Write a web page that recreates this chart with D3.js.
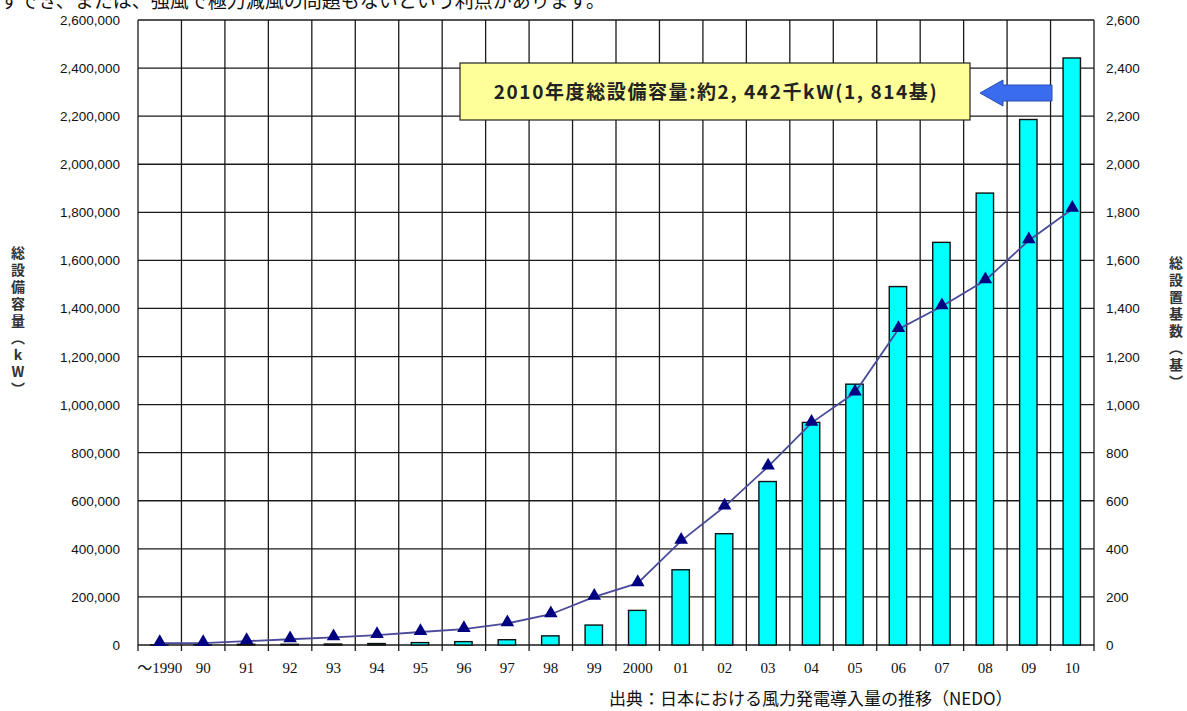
<!DOCTYPE html>
<html>
<head>
<meta charset="utf-8">
<script src="https://cdn.jsdelivr.net/npm/d3@7"></script>
<style>
  body { margin: 0; background: #fff; }
  svg { display: block; }
</style>
</head>
<body>
<div class="js-chart"></div>
<script>
'use strict';

//fiscal years on the x axis
var years = ['～1990', '90', '91', '92', '93', '94', '95', '96', '97', '98', '99', '2000',
    '01', '02', '03', '04', '05', '06', '07', '08', '09', '10'];

//total installed capacity (kW) - bars, left axis
var capacity = [600, 1000, 3000, 3000, 4000, 6000, 10000, 14000, 22000, 38000, 83000, 144000,
    313000, 463000, 680000, 926000, 1085000, 1491000, 1675000, 1880000, 2186000, 2442000];

//total number of units - line, right axis
var units = [8, 8, 16, 24, 32, 41, 54, 66, 90, 128, 200, 257,
    433, 576, 742, 924, 1050, 1314, 1409, 1517, 1683, 1814];

var leftTicks = d3.range(0, 2600001, 200000);
var rightTicks = d3.range(0, 2601, 200);

var W = 1187, H = 711;
var plot = {l: 138, r: 1094, t: 20, b: 645};

var svg = d3.select('.js-chart').append('svg')
    .attr('width', W)
    .attr('height', H);

var x = d3.scaleBand().domain(years).range([plot.l, plot.r]);
var y = d3.scaleLinear().domain([0, 2600000]).range([plot.b, plot.t]);
var y2 = d3.scaleLinear().domain([0, 2600]).range([plot.b, plot.t]);

//clipped sentence from the page above the chart
svg.append('text')
    .attr('x', 0)
    .attr('y', 8)
    .style('font-family', '"Noto Sans CJK JP"')
    .style('font-size', '19px')
    .style('fill', '#111')
    .text('すでき、または、強風で極力減風の問題もないという利点があります。');

//grid
var grid = svg.append('g');
grid.selectAll('.h').data(leftTicks).enter().append('line')
    .attr('x1', plot.l).attr('x2', plot.r)
    .attr('y1', function (d) { return y(d); })
    .attr('y2', function (d) { return y(d); })
    .style('stroke', '#1a1a1a').style('stroke-width', 1.3);

var bounds = years.map(function (d) { return x(d); }).concat([plot.r]);
grid.selectAll('.v').data(bounds).enter().append('line')
    .attr('x1', function (d) { return d; })
    .attr('x2', function (d) { return d; })
    .attr('y1', plot.t)
    .attr('y2', plot.b + 6)
    .style('stroke', '#1a1a1a').style('stroke-width', 1.3);

//bars
var bw = x.bandwidth() * 0.4;
svg.selectAll('.bar').data(capacity).enter().append('rect')
    .attr('x', function (d, i) { return x(years[i]) + (x.bandwidth() - bw) / 2 - 0.5; })
    .attr('y', function (d) { return y(d); })
    .attr('width', bw)
    .attr('height', function (d) { return plot.b - y(d); })
    .style('fill', '#00ffff')
    .style('stroke', '#111')
    .style('stroke-width', 1.4);

//units line
var line = d3.line()
    .x(function (d, i) { return x(years[i]) + x.bandwidth() / 2; })
    .y(function (d) { return y2(d); });

svg.append('path')
    .datum(units)
    .attr('d', line)
    .style('fill', 'none')
    .style('stroke', '#4a4a9a')
    .style('stroke-width', 1.8);

var tri = d3.symbol().type(d3.symbolTriangle).size(80);
svg.selectAll('.tri').data(units).enter().append('path')
    .attr('d', tri)
    .attr('transform', function (d, i) {
        return 'translate(' + (x(years[i]) + x.bandwidth() / 2) + ',' + (y2(d) - 1) + ')';
    })
    .style('fill', '#000080');

//axes labels
var axisFont = '"Liberation Sans", Arial, sans-serif';
svg.selectAll('.lt').data(leftTicks).enter().append('text')
    .attr('x', 120)
    .attr('y', function (d) { return y(d) + 5; })
    .attr('text-anchor', 'end')
    .style('font-family', axisFont)
    .style('font-size', '13.5px')
    .style('fill', '#111')
    .text(d3.format(','));

svg.selectAll('.rt').data(rightTicks).enter().append('text')
    .attr('x', 1106)
    .attr('y', function (d) { return y2(d) + 5; })
    .style('font-family', axisFont)
    .style('font-size', '13.5px')
    .style('fill', '#111')
    .text(d3.format(','));

svg.selectAll('.xt').data(years).enter().append('text')
    .attr('x', function (d) { return x(d) + x.bandwidth() / 2; })
    .attr('y', 673)
    .attr('text-anchor', 'middle')
    .style('font-family', '"Liberation Serif", "Noto Sans CJK JP", serif')
    .style('font-size', '15px')
    .style('fill', '#111')
    .text(function (d) { return d; });

//vertical axis titles
function vTitle(str, cx, top) {
    svg.append('text')
        .attr('x', cx)
        .attr('y', top)
        .style('writing-mode', 'vertical-rl')
        .style('text-orientation', 'upright')
        .style('font-family', '"Noto Sans CJK JP"')
        .style('font-weight', 'bold')
        .style('font-size', '14px')
        .style('letter-spacing', '3px')
        .style('fill', '#333')
        .text(str);
}
vTitle('総設備容量（kW）', 18, 246);
vTitle('総設置基数（基）', 1176, 256);

//annotation box
svg.append('rect')
    .attr('x', 460).attr('y', 63)
    .attr('width', 510).attr('height', 57)
    .style('fill', '#ffff99')
    .style('stroke', '#222')
    .style('stroke-width', 1.2);

svg.append('text')
    .attr('x', 716).attr('y', 99)
    .attr('text-anchor', 'middle')
    .style('font-family', '"Noto Sans CJK JP"')
    .style('font-weight', 'bold')
    .style('font-size', '19px')
    .style('letter-spacing', '1.6px')
    .style('fill', '#222')
    .text('2010年度総設備容量:約2, 442千kW(1, 814基)');

//arrow pointing at the 2010 bar
svg.append('path')
    .attr('d', 'M 980 93 L 1003 80 L 1003 85 L 1052 85 L 1052 101 L 1003 101 L 1003 106 Z')
    .style('fill', '#3a6cf0')
    .style('stroke', '#2a4fb0')
    .style('stroke-width', 1);

//source
svg.append('text')
    .attr('x', 609).attr('y', 705)
    .style('font-family', '"Noto Sans CJK JP"')
    .style('font-size', '17px')
    .style('fill', '#111')
    .text('出典：日本における風力発電導入量の推移（NEDO）');
</script>
</body>
</html>
